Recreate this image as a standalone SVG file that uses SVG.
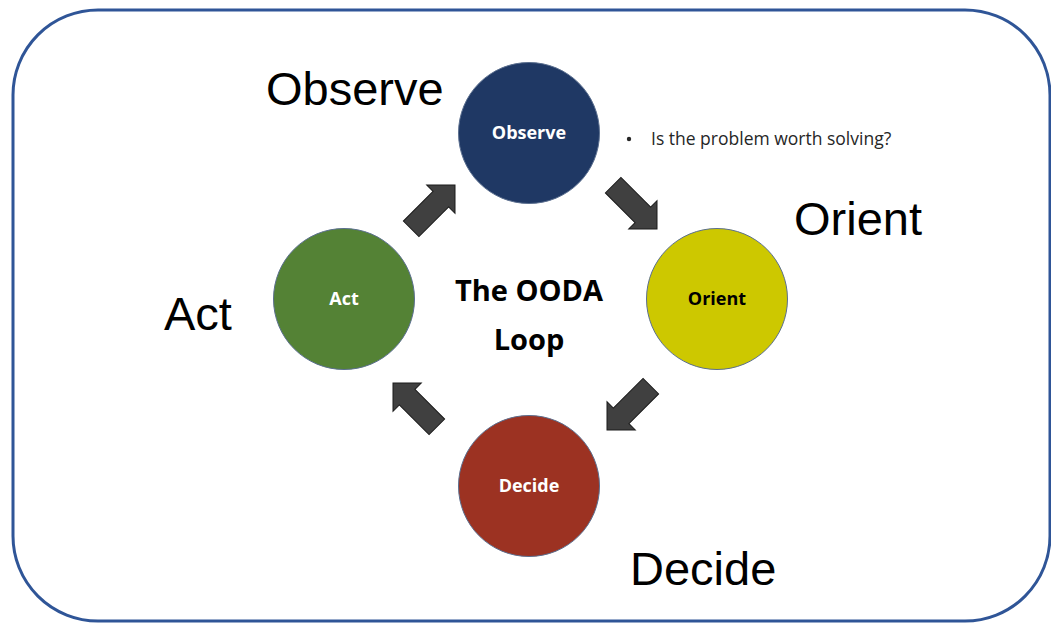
<svg xmlns="http://www.w3.org/2000/svg" width="1051" height="623" viewBox="0 0 1051 623">
<defs>
<style>
.big{font-family:"Liberation Sans",Arial,sans-serif;font-size:47px;fill:#000}
.in{font-family:"Open Sans","Lato",sans-serif;font-weight:bold;font-size:18px;text-anchor:middle}
.arr{fill:#404040;stroke:#1a1a1a;stroke-width:1}
.node{stroke:#5b6f8f;stroke-width:1}
.ttl{font-family:"Open Sans",sans-serif;font-weight:bold;font-size:29px;text-anchor:middle;fill:#000}
</style>
<polygon id="blk" points="0,0 -20,-20 -20,-11 -62,-11 -62,11 -20,11 -20,20"/>
</defs>
<rect x="0" y="0" width="1051" height="623" fill="#fff"/>
<rect x="13" y="10" width="1037" height="611" rx="85" ry="85" fill="#fff" stroke="#2f5597" stroke-width="3"/>
<g id="connectors">
<use href="#blk" class="arr" transform="translate(455,185) rotate(-45)"/>
<use href="#blk" class="arr" transform="translate(657,229) rotate(45)"/>
<use href="#blk" class="arr" transform="translate(607,430) rotate(135)"/>
<use href="#blk" class="arr" transform="translate(393,383) rotate(-135)"/>
</g>
<g id="observe">
<circle class="node" cx="529" cy="133" r="70.5" fill="#1f3864"/>
<text class="in" x="529" y="139" fill="#fff">Observe</text>
</g>
<g id="orient">
<circle class="node" cx="717" cy="299" r="70.5" fill="#cdc800"/>
<text class="in" x="717" y="305" fill="#000">Orient</text>
</g>
<g id="decide">
<circle class="node" cx="529" cy="486" r="70.5" fill="#9c3222"/>
<text class="in" x="529" y="492" fill="#fff">Decide</text>
</g>
<g id="act">
<circle class="node" cx="344" cy="299" r="70.5" fill="#548235"/>
<text class="in" x="344" y="305" fill="#fff">Act</text>
</g>
<g id="title">
<text class="ttl" x="529" y="301">The OODA</text>
<text class="ttl" x="529" y="350">Loop</text>
</g>
<g id="note">
<circle cx="629" cy="139" r="2.2" fill="#262626"/>
<text x="651" y="145" font-family="'Open Sans',sans-serif" font-size="17.5" fill="#262626">Is the problem worth solving?</text>
</g>
<g id="labels">
<text class="big" x="266" y="105">Observe</text>
<text class="big" x="794" y="235">Orient</text>
<text class="big" x="164" y="330">Act</text>
<text class="big" x="630" y="585">Decide</text>
</g>
</svg>
